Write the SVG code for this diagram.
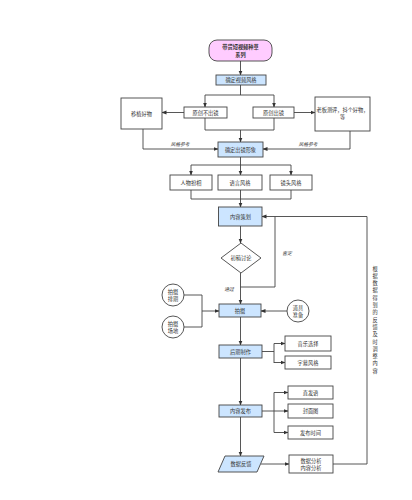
<svg xmlns="http://www.w3.org/2000/svg" width="412" height="500" viewBox="0 0 412 500">
<defs>
<marker id="ah" viewBox="0 0 10 10" refX="9" refY="5" markerWidth="5" markerHeight="5" orient="auto" markerUnits="userSpaceOnUse">
<path d="M0,1 L10,5 L0,9 Z" fill="#333"/>
</marker>
<style>
.t{font-family:"Liberation Sans","Noto Sans CJK SC",sans-serif;font-size:5.2px;fill:#333;text-anchor:middle;dominant-baseline:central}
.it{font-style:italic;font-size:4.8px}
.b{fill:#fff;stroke:#444;stroke-width:0.9}
.bl{fill:#cce5ff;stroke:#444;stroke-width:0.9}
.c{fill:none;stroke:#444;stroke-width:0.9}
.a{fill:none;stroke:#444;stroke-width:0.9;marker-end:url(#ah)}
</style>
</defs>
<rect width="412" height="500" fill="#fff"/>
<g id="connectors">
<path class="a" d="M240.5,61 V75"/>
<path class="c" d="M240.5,85 V95 M205,95 H274"/>
<path class="a" d="M205,95 V107"/>
<path class="a" d="M274,95 V107"/>
<path class="a" d="M184,112.5 H162"/>
<path class="a" d="M294,112.5 H315"/>
<path class="c" d="M205,118 V130 H274 V118"/>
<path class="a" d="M240.5,130 V142"/>
<path class="a" d="M143,129 V149 H218"/>
<path class="a" d="M350,131 V149 H263"/>
<path class="c" d="M240.5,157 V165 M191,165 H291"/>
<path class="a" d="M191,165 V175"/>
<path class="a" d="M240.5,165 V175"/>
<path class="a" d="M291,165 V175"/>
<path class="c" d="M191,190 V199 H291 V190 M240.5,190 V199"/>
<path class="a" d="M240.5,199 V207"/>
<path class="a" d="M240.5,226 V243"/>
<path class="a" d="M240.5,273 V304"/>
<path class="c" d="M240.5,287 H275 V216.5"/>
<path class="a" d="M333,464 H367 V216.5 H262"/>
<path class="c" d="M184,295 H202 V327 H184"/>
<path class="a" d="M202,311 H219"/>
<path class="a" d="M287,311 H261"/>
<path class="a" d="M240.5,317 V345"/>
<path class="c" d="M262,351.5 H274 M274,343.5 V363"/>
<path class="a" d="M274,343.5 H285"/>
<path class="a" d="M274,362.5 H285"/>
<path class="a" d="M240.5,358 V405"/>
<path class="c" d="M262,411 H274 M274,392.5 V432.5"/>
<path class="a" d="M274,392.5 H288"/>
<path class="a" d="M274,411 H288"/>
<path class="a" d="M274,432.5 H288"/>
<path class="a" d="M240.5,417 V456"/>
<path class="a" d="M261,464 H289"/>
<text class="t it" x="180" y="144">风格参考</text>
<text class="t it" x="308" y="144">风格参考</text>
<text class="t it" x="287" y="253">否定</text>
<text class="t it" x="229" y="289">通过</text>
<text class="t" x="375" y="268.5">根</text>
<text class="t" x="375" y="275.8">据</text>
<text class="t" x="375" y="283.1">数</text>
<text class="t" x="375" y="290.4">据</text>
<text class="t" x="375" y="297.7">得</text>
<text class="t" x="375" y="305">到</text>
<text class="t" x="375" y="312.3">的</text>
<text class="t" x="375" y="319.6">反</text>
<text class="t" x="375" y="326.9">馈</text>
<text class="t" x="375" y="334.2">及</text>
<text class="t" x="375" y="341.5">时</text>
<text class="t" x="375" y="348.8">调</text>
<text class="t" x="375" y="356.1">整</text>
<text class="t" x="375" y="363.4">内</text>
<text class="t" x="375" y="370.7">容</text>
</g>
<g id="n-title"><rect x="209" y="40" width="63" height="21" rx="8" fill="#ffccff" stroke="#444" stroke-width="0.9"/><text class="t" x="240.5" y="47" font-weight="bold">带货短视频种草</text><text class="t" x="240.5" y="54.5" font-weight="bold">系列</text></g>
<g id="n-style"><rect class="bl" x="216" y="75" width="50" height="10"/><text class="t" x="241" y="80">确定视频风格</text></g>
<g id="n-noface"><rect class="b" x="184" y="107" width="43" height="11"/><text class="t" x="205.5" y="112.5">原创不出镜</text></g>
<g id="n-face"><rect class="b" x="253" y="107" width="41" height="11"/><text class="t" x="273.5" y="112.5">原创出镜</text></g>
<g id="n-move"><rect class="b" x="121" y="98" width="41" height="31"/><text class="t" x="141.5" y="113.5">移植好物</text></g>
<g id="n-boss"><rect class="b" x="315" y="97" width="55" height="34"/><text class="t" x="342.5" y="110">老板测评，抖个好物，</text><text class="t" x="342.5" y="116.5">等</text></g>
<g id="n-image"><rect class="bl" x="218" y="142" width="45" height="15"/><text class="t" x="240.5" y="149.5">确定出镜形象</text></g>
<g id="n-person"><rect class="b" x="170" y="175" width="42" height="15"/><text class="t" x="191" y="182.5">人物扮相</text></g>
<g id="n-lang"><rect class="b" x="218" y="175" width="44" height="15"/><text class="t" x="240" y="182.5">语言风格</text></g>
<g id="n-lens"><rect class="b" x="270" y="175" width="42" height="15"/><text class="t" x="291" y="182.5">镜头风格</text></g>
<g id="n-plan"><rect class="bl" x="218.5" y="207" width="43.5" height="19"/><text class="t" x="240.5" y="216.5">内容策划</text></g>
<g id="n-discuss"><path class="b" d="M241,243 L261,258 L241,273 L221,258 Z"/><text class="t" x="241" y="258">初稿讨论</text></g>
<g id="n-shoot"><rect class="bl" x="219" y="304" width="42" height="13"/><text class="t" x="240" y="310.5">拍摄</text></g>
<g id="n-schedule"><circle class="b" cx="173" cy="295" r="11"/><text class="t" x="173" y="292">拍摄</text><text class="t" x="173" y="298.5">排期</text></g>
<g id="n-site"><circle class="b" cx="173" cy="327" r="11"/><text class="t" x="173" y="324">拍摄</text><text class="t" x="173" y="330.5">场地</text></g>
<g id="n-props"><circle class="b" cx="298" cy="311" r="11"/><text class="t" x="298" y="308">道具</text><text class="t" x="298" y="314.5">准备</text></g>
<g id="n-post"><rect class="bl" x="219" y="345" width="43" height="13"/><text class="t" x="240.5" y="351.5">后期制作</text></g>
<g id="n-music"><rect class="b" x="285" y="336" width="46" height="15"/><text class="t" x="308" y="343.5">音乐选择</text></g>
<g id="n-subtitle"><rect class="b" x="285" y="356" width="46" height="13"/><text class="t" x="308" y="362.5">字幕风格</text></g>
<g id="n-publish"><rect class="bl" x="219" y="405" width="43" height="12"/><text class="t" x="240.5" y="411">内容发布</text></g>
<g id="n-copy"><rect class="b" x="288" y="386" width="45" height="13"/><text class="t" x="310.5" y="392.5">直发语</text></g>
<g id="n-cover"><rect class="b" x="288" y="404" width="45" height="14"/><text class="t" x="310.5" y="411">封面图</text></g>
<g id="n-time"><rect class="b" x="288" y="426" width="45" height="13"/><text class="t" x="310.5" y="432.5">发布时间</text></g>
<g id="n-feedback"><path class="bl" d="M225,456 H264 L257,472 H218 Z"/><text class="t" x="241" y="464">数据反馈</text></g>
<g id="n-analysis"><rect class="b" x="289" y="455" width="44" height="18"/><text class="t" x="311" y="460.5">数据分析</text><text class="t" x="311" y="467.5">内容分析</text></g>
</svg>
